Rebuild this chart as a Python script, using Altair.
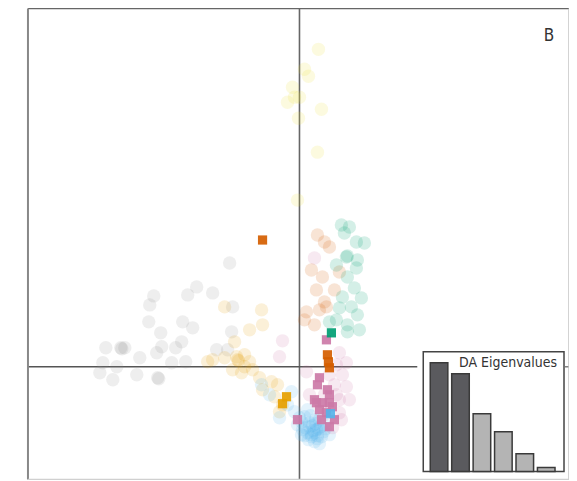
import altair as alt
import pandas as pd

# ---- faint individual points (LD1, LD2) per group ----
gray_x = [-10.3, -11.2, -8.7, -14.6, -15.0, -15.1, -11.7, -10.7, -13.9, -11.8, -12.4, -13.8, -14.3, -16.0,
          -17.9, -17.8, -17.5, -19.4, -19.7, -18.3, -20.0, -18.7, -16.3, -14.2, -14.1, -12.8, -11.4,
          -7.0, -6.7, -6.8, -8.3, -7.2]
gray_y = [8.0, 7.2, 7.4, 7.1, 6.2, 4.5, 4.5, 3.9, 3.4, 2.5, 1.9, 2.0, 1.4, 0.9,
          1.9, 1.8, 1.9, 1.9, 0.4, 0.0, -0.6, -1.3, -0.8, -1.1, -1.2, 0.4, 0.5,
          10.4, 6.0, 3.5, 1.7, 1.7]

orange_x = [-5.0, -3.7, -6.5, -7.5, -3.8, -8.7, -7.5, -6.2, -6.1, -5.5, -4.7, -4.0, -2.8, -2.2, -3.7,
            -2.5, -1.7, -2.0, -5.8, -6.7, -9.2, -6.3, -5.5, -5.0]
orange_y = [3.7, 4.2, 2.5, 6.0, 5.7, 0.7, 0.9, 0.7, 0.6, 0.0, -0.3, -1.1, -1.5, -1.8, -2.3,
            -3.0, -3.8, -4.5, -0.6, -0.3, 0.5, 1.0, 1.2, 0.5]

blue_x = [0.5, 1.0, 1.7, 1.2, 2.2, 0.3, 2.5, 1.5, -0.2, 0.8, -0.5, -3.0, -3.8, -1.2, -2.0, -0.8, 3.0, 2.0,
          0.0, 0.6, 1.3, 1.8, 0.9, 2.4, 1.6, 0.2, 1.1, 2.0,
          1.4, 1.9, 0.8, 1.2, 2.1, 1.6, 0.5, 1.0, 1.5, 2.6, 0.2, 1.8]
blue_y = [-5.0, -5.6, -6.3, -6.8, -7.0, -6.3, -5.8, -7.5, -5.8, -4.3, -4.5, -2.8, -1.8, -3.8, -5.1, -2.5, -6.8, -5.3,
          -5.1, -6.1, -5.9, -6.9, -7.3, -6.5, -5.3, -6.8, -4.9, -7.7,
          -6.4, -6.2, -6.6, -7.0, -6.0, -5.7, -6.9, -6.0, -6.6, -6.2, -5.5, -7.2]

pink_x = [4.0, 4.7, 4.3, 4.7, 5.0, 4.0, 3.7, 4.2, -1.7, -2.0, 1.5, 0.7, 1.0, 3.7, 2.5, 3.5, 3.0, 4.0, 2.5, 3.3]
pink_y = [1.4, 0.4, -0.8, -2.0, -3.3, -4.6, -2.8, -5.3, 2.6, 1.0, 10.9, -0.5, -2.8, 0.2, -2.8, -1.8, -0.8, -3.3, -4.8, -6.1]

verm_x = [1.8, 2.5, 3.0, 1.2, 2.3, 4.0, 1.7, 2.5, 0.7, 2.0, 2.7, 0.5, 3.5, 1.5]
verm_y = [13.2, 12.5, 12.0, 9.7, 9.0, 9.5, 7.7, 6.5, 5.5, 5.7, 6.0, 4.7, 7.7, 4.2]

green_x = [4.2, 5.0, 4.5, 5.7, 6.5, 4.7, 4.8, 5.8, 5.7, 3.7, 4.8, 5.5, 4.3, 6.2, 5.2, 4.0, 5.8, 3.7, 4.8, 3.0, 4.8, 6.0]
green_y = [14.2, 14.0, 13.4, 12.5, 12.4, 11.0, 11.1, 10.7, 9.9, 10.2, 9.0, 7.9, 7.0, 6.9, 6.0, 5.9, 5.2, 4.7, 4.2, 4.5, 3.5, 3.7]

yellow_x = [1.9, 0.5, 0.9, -0.7, -0.5, -1.2, 0.0, 2.2, -0.1, 1.8, -0.2]
yellow_y = [31.8, 29.8, 29.1, 28.0, 27.0, 26.5, 27.0, 25.8, 24.9, 21.5, 16.7]

# ---- solid squares ----
sq_pink_x = [2.7, 2.0, 1.8, 2.8, 3.0, 1.7, 2.3, 3.0, 3.3, 2.0, 2.7, 3.5, 3.0, 2.2, -0.2, 1.5]
sq_pink_y = [2.7, -1.1, -1.8, -2.3, -2.8, -3.6, -3.6, -3.6, -4.0, -4.3, -4.6, -5.3, -6.0, -5.3, -5.3, -3.3]
sq_verm_x = [-3.7, 2.8, 2.9, 3.0]
sq_verm_y = [12.7, 1.2, 0.5, -0.1]
sq_orange_x = [-1.7, -1.3]
sq_orange_y = [-3.7, -3.0]
sq_blue_x = [3.1]
sq_blue_y = [-4.7]
sq_green_x = [3.2]
sq_green_y = [3.4]

# ---- inset eigenvalues ----
eig_rank = [1, 2, 3, 4, 5, 6]
eig_vals = [109, 98, 58, 40, 18, 4]
eig_kept = ["kept", "kept", "other", "other", "other", "other"]

groups = ["gray", "orange", "blue", "pink", "verm", "green", "yellow"]
colors = ["#8a8a8a", "#E69F00", "#56B4E9", "#CC79A7", "#D55E00", "#009E73", "#F0E442"]
alphas = [0.15, 0.17, 0.24, 0.2, 0.14, 0.15, 0.12]

pts = []
for g, xs, ys in [("gray", gray_x, gray_y), ("orange", orange_x, orange_y), ("blue", blue_x, blue_y),
                  ("pink", pink_x, pink_y), ("verm", verm_x, verm_y), ("green", green_x, green_y),
                  ("yellow", yellow_x, yellow_y)]:
    for a, b in zip(xs, ys):
        pts.append({"g": g, "x": a, "y": b})
pts = pd.DataFrame(pts)

sqs = []
for g, xs, ys in [("pink", sq_pink_x, sq_pink_y), ("verm", sq_verm_x, sq_verm_y), ("orange", sq_orange_x, sq_orange_y),
                  ("blue", sq_blue_x, sq_blue_y), ("green", sq_green_x, sq_green_y)]:
    for a, b in zip(xs, ys):
        sqs.append({"g": g, "x": a, "y": b})
sqs = pd.DataFrame(sqs)

eig = pd.DataFrame({"rank": eig_rank, "val": eig_vals, "kept": eig_kept})
zero = pd.DataFrame({"z": [0.0]})
one = pd.DataFrame({"d": [0]})

W, H = 542, 472
FONT = "Liberation Sans Narrow, DejaVu Sans Condensed, sans-serif"
xsc = alt.Scale(domain=[-27.2, 27.0], nice=False, zero=False)
ysc = alt.Scale(domain=[-11.3, 35.9], nice=False, zero=False)
csc = alt.Scale(domain=groups, range=colors)
osc = alt.Scale(domain=groups, range=alphas)

circles = alt.Chart(pts).mark_circle(size=180).encode(
    x=alt.X("x:Q", scale=xsc, axis=None),
    y=alt.Y("y:Q", scale=ysc, axis=None),
    color=alt.Color("g:N", scale=csc, legend=None),
    opacity=alt.Opacity("g:N", scale=osc, legend=None),
)
squares = alt.Chart(sqs).mark_square(size=85, opacity=0.92).encode(
    x=alt.X("x:Q", scale=xsc, axis=None),
    y=alt.Y("y:Q", scale=ysc, axis=None),
    color=alt.Color("g:N", scale=csc, legend=None),
)

vline = alt.Chart(zero).mark_rule(color="#666", strokeWidth=1.6).encode(
    x=alt.X("z:Q", scale=xsc, axis=None), y=alt.value(-2), y2=alt.value(H))
hline = alt.Chart(zero).mark_rule(color="#555", strokeWidth=1.6).encode(
    y=alt.Y("z:Q", scale=ysc, axis=None), x=alt.value(0), x2=alt.value(390))
hline2 = alt.Chart(zero).mark_rule(color="#777", strokeWidth=1.4).encode(
    y=alt.Y("z:Q", scale=ysc, axis=None), x=alt.value(538), x2=alt.value(W))

f_top = alt.Chart(one).mark_rule(color="#666", strokeWidth=1.5).encode(
    x=alt.value(0), x2=alt.value(W), y=alt.value(0))
f_left = alt.Chart(one).mark_rule(color="#888", strokeWidth=2).encode(
    x=alt.value(0), y=alt.value(0), y2=alt.value(H))
f_right = alt.Chart(one).mark_rule(color="#c4c4c4", strokeWidth=1.5).encode(
    x=alt.value(W), y=alt.value(0), y2=alt.value(H))
f_bottom = alt.Chart(one).mark_rule(color="#d0d0d0", strokeWidth=1.5).encode(
    x=alt.value(0), x2=alt.value(W), y=alt.value(H))

label_b = alt.Chart(one).mark_text(text="B", fontSize=17, font=FONT,
                                   color="#333", align="center", baseline="middle").encode(
    x=alt.value(522), y=alt.value(28))

box = alt.Chart(one).mark_rect(fill="white", stroke="#444", strokeWidth=1.5).encode(
    x=alt.value(396), x2=alt.value(537), y=alt.value(344), y2=alt.value(464))
eig_title = alt.Chart(one).mark_text(text="DA Eigenvalues", fontSize=14, font=FONT,
                                     color="#333", align="right", baseline="middle").encode(
    x=alt.value(530), y=alt.value(355))

main = alt.layer(vline, hline, hline2, circles, squares, f_top, f_left, f_right, f_bottom, label_b, box, eig_title)

bsx = alt.Scale(domain=[0.45, 6.55], range=[400, 531], nice=False, zero=False)
bsy = alt.Scale(domain=[0, 120], range=[464, 344], nice=False)
bars = alt.Chart(eig).transform_calculate(
    lo="datum.rank - 0.41", hi="datum.rank + 0.41"
).mark_rect(stroke="#3a3a3a", strokeWidth=1.5).encode(
    x=alt.X("lo:Q", scale=bsx, axis=None),
    x2="hi:Q",
    y=alt.Y("val:Q", scale=bsy, axis=None),
    y2=alt.datum(0),
    fill=alt.Fill("kept:N", legend=None,
                  scale=alt.Scale(domain=["kept", "other"], range=["#5a5a5e", "#b4b4b4"])),
)

chart = alt.layer(main, bars).resolve_scale(
    x="independent", y="independent"
).properties(
    width=W, height=H,
    padding={"left": 20, "top": 0, "right": 0, "bottom": 0},
    autosize=alt.AutoSizeParams(type="none"),
    background="white",
).configure_view(stroke=None)

chart.save("out.html", embed_options={"renderer": "svg", "actions": False})
